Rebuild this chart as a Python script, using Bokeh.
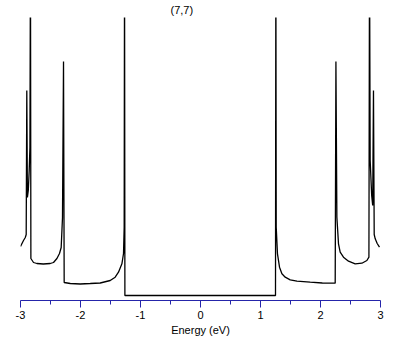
from bokeh.plotting import figure
from bokeh.models import Range1d, FixedTicker, LinearAxis
from bokeh.embed import file_html
from bokeh.resources import INLINE

# Density of states of the (7,7) nanotube (arbitrary units)
energy = [
    -3.000, -2.950, -2.920, -2.905, -2.895, -2.885, -2.870, -2.855, -2.843, -2.834,
    -2.827, -2.783, -2.727, -2.620, -2.505, -2.450, -2.393, -2.350, -2.322, -2.300,
    -2.283, -2.272, -2.170, -2.005, -1.838, -1.672, -1.505, -1.422, -1.367, -1.310,
    -1.283, -1.272, -1.266, -1.260,
    1.250, 1.256, 1.262, 1.283, 1.317, 1.357, 1.412, 1.495, 1.607, 1.828,
    2.030, 2.245, 2.257, 2.273, 2.300, 2.328, 2.383, 2.467, 2.578, 2.690,
    2.773, 2.807, 2.817, 2.828, 2.853, 2.870, 2.883, 2.895, 2.912, 2.945, 2.983,
]
dos = [
    0.540, 0.600, 0.630, 0.660, 2.100, 1.030, 1.100, 1.300, 1.530, 3.500,
    0.420, 0.380, 0.370, 0.365, 0.370, 0.380, 0.420, 0.470, 0.530, 0.830,
    2.390, 0.180, 0.170, 0.165, 0.170, 0.175, 0.200, 0.233, 0.283, 0.367,
    0.470, 0.733, 3.500, 0.050,
    0.050, 3.500, 0.733, 0.467, 0.333, 0.267, 0.233, 0.207, 0.193, 0.183,
    0.175, 0.173, 2.390, 0.833, 0.567, 0.483, 0.433, 0.393, 0.367, 0.373,
    0.400, 0.433, 3.500, 1.400, 1.050, 0.950, 2.100, 0.660, 0.617, 0.570, 0.533,
]

tick_values = [-3, -2, -1, 0, 1, 2, 3]
tick_labels = ["-3", "-2", "-1", "0", "1", "2", "3"]
minor_tick_values = [-2.5, -1.5, -0.5, 0.5, 1.5, 2.5]
title_text = "(7,7)"
x_label = "Energy (eV)"

AXIS_BLUE = "#2525aa"
FONT = "Liberation Sans"

p = figure(
    frame_width=360, frame_height=283,
    x_range=Range1d(-3, 3), y_range=Range1d(0, 2.83),
    output_backend="svg", toolbar_location=None,
    x_axis_location=None, y_axis_location=None,
    min_border_left=20, min_border_right=29, min_border_top=17, min_border_bottom=45,
    background_fill_color="white", border_fill_color="white",
    title=title_text,
)
p.outline_line_color = None
p.grid.visible = False

p.title.align = "left"
p.title.offset = 150
p.title.standoff = 3
p.title.text_font = FONT
p.title.text_font_size = "11px"
p.title.text_font_style = "normal"
p.title.text_color = "black"

p.line(energy, dos, line_color="black", line_width=1.3)

axis = LinearAxis(
    ticker=FixedTicker(ticks=tick_values, minor_ticks=minor_tick_values),
    major_label_overrides={v: s for v, s in zip(tick_values, tick_labels)},
    axis_label=x_label,
)
axis.axis_line_color = AXIS_BLUE
axis.major_tick_line_color = AXIS_BLUE
axis.minor_tick_line_color = AXIS_BLUE
axis.major_tick_in = 0
axis.major_tick_out = 7
axis.minor_tick_in = 0
axis.minor_tick_out = 4
axis.major_label_text_font = FONT
axis.major_label_text_font_size = "11px"
axis.major_label_text_color = "black"
axis.major_label_standoff = 3
axis.axis_label_text_font = FONT
axis.axis_label_text_font_size = "11px"
axis.axis_label_text_font_style = "normal"
axis.axis_label_text_color = "black"
axis.axis_label_standoff = 2
p.add_layout(axis, "below")

open("out.html", "w").write(file_html(p, INLINE))
